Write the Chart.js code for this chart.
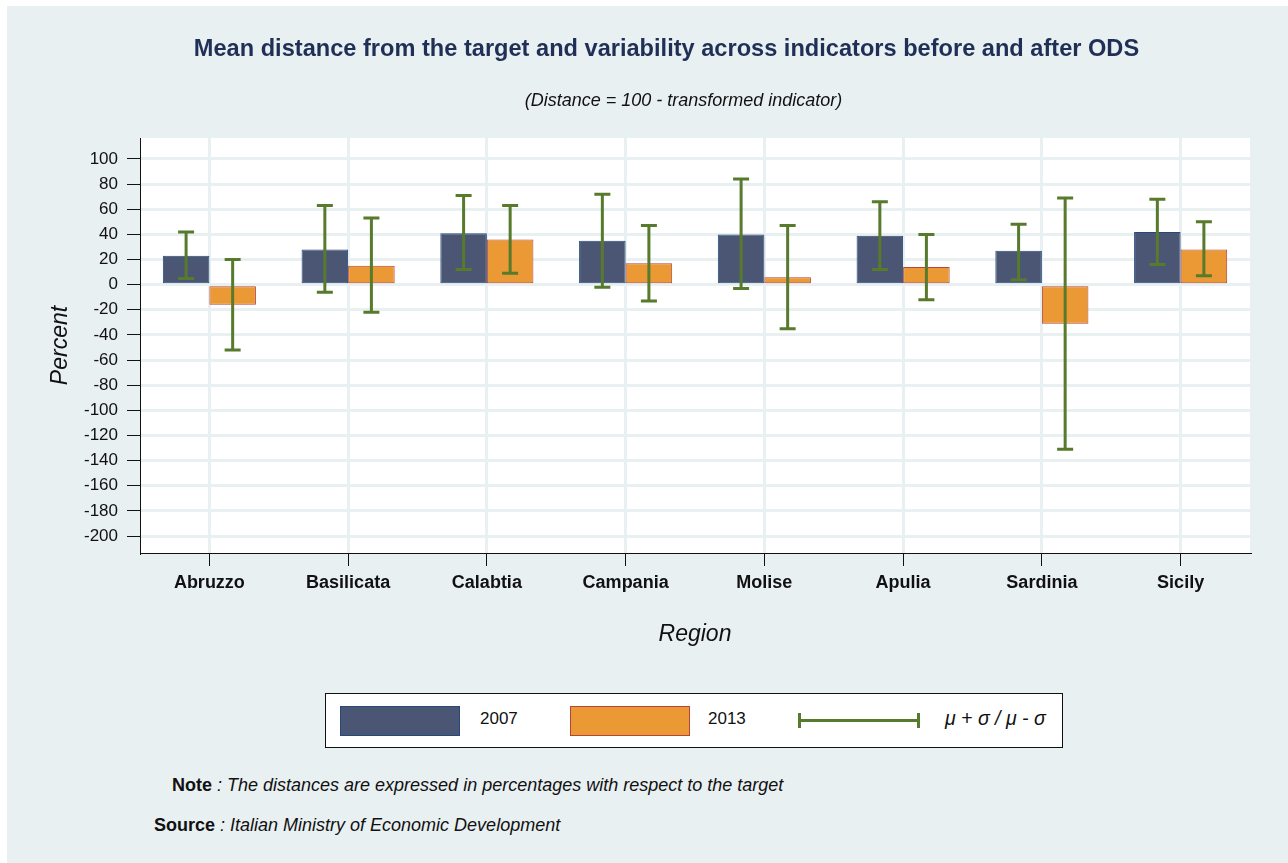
<!DOCTYPE html>
<html>
<head>
<meta charset="utf-8">
<script src="https://cdn.jsdelivr.net/npm/chart.js@4/dist/chart.umd.min.js"></script>
<style>
  body { margin: 0; background: #fff; font-family: "Liberation Sans", Arial, sans-serif; }
  #page { position: absolute; left: 7px; top: 6px; width: 1281px; height: 857px; background: #e9f0f2; }
  #chartBox { position: absolute; left: 0; top: 0; width: 1281px; height: 674px; }
  .head { position: absolute; text-align: center; white-space: nowrap; }
  #legend { position: absolute; left: 318px; top: 687px; width: 736px; height: 53px; background: #fff; border: 1px solid #111; }
  .sw { position: absolute; top: 12px; width: 118px; height: 28px; }
  .lt { position: absolute; top: 15px; font-size: 17px; color: #111; }
  .note { position: absolute; font-size: 18px; color: #111; }
  .note i { font-style: italic; }
</style>
</head>
<body>
<div id="page">
  <div id="chartBox"><canvas id="chart"></canvas></div>
  <div id="legend">
    <div class="sw" style="left:14px; background:#4b5675; border:1px solid #244a7a;"></div>
    <div class="lt" style="left:154px;">2007</div>
    <div class="sw" style="left:244px; background:#ea9935; border:1px solid #b5443a;"></div>
    <div class="lt" style="left:382px;">2013</div>
    <div style="position:absolute; left:473px; top:25px; width:120px; height:3px; background:#577a2c;"></div>
    <div style="position:absolute; left:472px; top:19px; width:3px; height:15px; background:#577a2c;"></div>
    <div style="position:absolute; left:591px; top:19px; width:3px; height:15px; background:#577a2c;"></div>
    <div class="lt" style="left:619px; top:13px; font-size:19.5px; font-style:italic;">μ + σ / μ - σ</div>
  </div>
  <div class="note" style="left:165px; top:769px;"><b>Note</b><i> : The distances are expressed in percentages with respect to the target</i></div>
  <div class="note" style="left:147px; top:809px;"><b>Source</b><i> : Italian Ministry of Economic Development</i></div>
</div>
<div class="head" style="left:0; width:1333px; top:34px; font-size:23.6px; line-height:28px; font-weight:bold; color:#1f2f56;">Mean distance from the target and variability across indicators before and after ODS</div>
<div class="head" style="left:0; width:1367px; top:89px; font-size:18px; line-height:22px; font-style:italic; color:#111;">(Distance = 100 - transformed indicator)</div>
<script>
// data
const regions = ["Abruzzo", "Basilicata", "Calabtia", "Campania", "Molise", "Apulia", "Sardinia", "Sicily"];
const mean2007 = [23, 28, 41, 35, 40, 39, 27, 42];
const mean2013 = [-16, 15, 36, 17, 6, 14, -31, 28];
const high2007 = [42, 63, 71, 72, 84, 66, 48, 68];
const low2007 = [5, -6, 12, -2, -3, 12, 4, 16];
const high2013 = [20, 53, 63, 47, 47, 40, 69, 50];
const low2013 = [-52, -22, 9, -13, -35, -12, -131, 7];
const yTicks = [100, 80, 60, 40, 20, 0, -20, -40, -60, -80, -100, -120, -140, -160, -180, -200];

const font = '"Liberation Sans", Arial, sans-serif';

// white plot area
const plotBg = {
    id: "plotBg",
    beforeDraw(chart) {
        const a = chart.chartArea, ctx = chart.ctx;
        ctx.save();
        ctx.fillStyle = "#fff";
        ctx.fillRect(a.left, a.top, a.right - a.left, a.bottom - a.top);
        ctx.restore();
    }
};

// mean +/- sigma whiskers
const errorBars = {
    id: "errorBars",
    afterDatasetsDraw(chart) {
        const ctx = chart.ctx, y = chart.scales.y;
        const ranges = [[low2007, high2007], [low2013, high2013]];
        ctx.save();
        ctx.strokeStyle = "#577a2c";
        ctx.lineWidth = 3;
        ranges.forEach((r, i) => {
            chart.getDatasetMeta(i).data.forEach((bar, j) => {
                const top = y.getPixelForValue(r[1][j]);
                const bot = y.getPixelForValue(r[0][j]);
                ctx.beginPath();
                ctx.moveTo(bar.x, top); ctx.lineTo(bar.x, bot);
                ctx.moveTo(bar.x - 8, top); ctx.lineTo(bar.x + 8, top);
                ctx.moveTo(bar.x - 8, bot); ctx.lineTo(bar.x + 8, bot);
                ctx.stroke();
            });
        });
        ctx.restore();
    }
};

new Chart(document.getElementById("chart"), {
    type: "bar",
    data: {
        labels: regions,
        datasets: [
            { label: "2007", data: mean2007, backgroundColor: "#4b5675", borderColor: "#244a7a", borderWidth: 1, borderSkipped: false },
            { label: "2013", data: mean2013, backgroundColor: "#ea9935", borderColor: "#b5443a", borderWidth: 1, borderSkipped: false }
        ]
    },
    options: {
        responsive: true,
        maintainAspectRatio: false,
        animation: false,
        layout: { padding: { left: 0, right: 38, top: 132, bottom: 0 } },
        datasets: { bar: { categoryPercentage: 0.671, barPercentage: 1 } },
        plugins: {
            legend: { display: false },
            tooltip: { enabled: false }
        },
        scales: {
            x: {
                grid: { offset: false, color: "#e9f0f2", lineWidth: 3, tickColor: "#111", tickWidth: 1, tickLength: 13 },
                border: { display: true, color: "#111", width: 1 },
                ticks: { color: "#111", font: { family: font, size: 18, weight: "bold" }, padding: 6 },
                title: { display: true, text: "Region", color: "#111", font: { family: font, size: 23, style: "italic" }, padding: { top: 0, bottom: 32 } },
                afterFit(scale) { scale.height = 127; }
            },
            y: {
                min: -213.5,
                max: 116.7,
                afterBuildTicks(scale) { scale.ticks = yTicks.map(v => ({ value: v })); },
                grid: { color: "#e9f0f2", lineWidth: 3, tickColor: "#111", tickWidth: 1, tickLength: 13 },
                border: { display: true, color: "#111", width: 1 },
                ticks: { color: "#111", font: { family: font, size: 17 }, padding: 9 },
                title: { display: true, text: "Percent", color: "#111", font: { family: font, size: 23, style: "italic" }, padding: { top: 40, bottom: 0 } },
                afterFit(scale) { scale.width = 133; }
            }
        }
    },
    plugins: [plotBg, errorBars]
});
</script>
</body>
</html>
